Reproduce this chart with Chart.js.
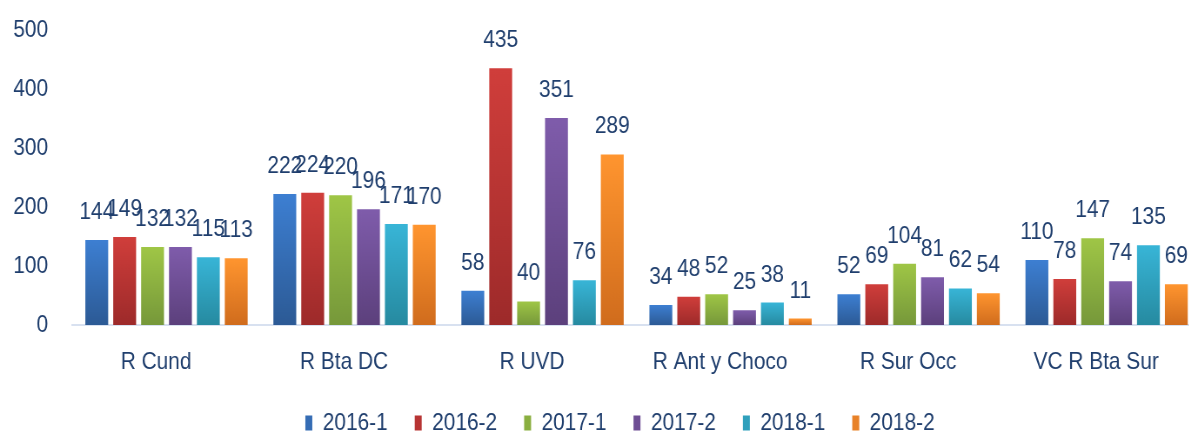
<!DOCTYPE html>
<html>
<head>
<meta charset="utf-8">
<script src="https://cdn.jsdelivr.net/npm/chart.js@4.4.1/dist/chart.umd.min.js"></script>
<style>
  html, body { margin: 0; padding: 0; background: #fff; overflow: hidden; }
  /* drawn wide, then squeezed so the text gets the narrow look of the original */
  #myChart { display: block; transform: scaleX(0.87); transform-origin: 0 0; }
</style>
</head>
<body>
<canvas id="myChart" width="1455" height="434"></canvas>
<script>
var categories = ['R Cund', 'R Bta DC', 'R UVD', 'R Ant y Choco', 'R Sur Occ', 'VC R Bta Sur'];
var seriesNames = ['2016-1', '2016-2', '2017-1', '2017-2', '2018-1', '2018-2'];
var s2016_1 = [144, 222, 58, 34, 52, 110];
var s2016_2 = [149, 224, 435, 48, 69, 78];
var s2017_1 = [132, 220, 40, 52, 104, 147];
var s2017_2 = [132, 196, 351, 25, 81, 74];
var s2018_1 = [115, 171, 76, 38, 62, 135];
var s2018_2 = [113, 170, 289, 11, 54, 69];
var yTicks = [0, 100, 200, 300, 400, 500];

// top / bottom colours of each bar gradient
var topColors = ['#3d7fd2', '#d03e3b', '#9fc646', '#7f5cab', '#38b5d7', '#ff952f'];
var botColors = ['#2c5a95', '#9d2a2a', '#76983a', '#5c407c', '#268aa0', '#d06c1d'];
var midColors = ['#356cb4', '#b73433', '#8aaf40', '#6e4e94', '#2fa0bc', '#e88127'];

var textColor = '#1f3e6d';
var fontFam = "'Liberation Sans', Arial, sans-serif";

var allSeries = [s2016_1, s2016_2, s2017_1, s2017_2, s2018_1, s2018_2];

function barGradient(i){
    return function(ctx){
        var chart = ctx.chart;
        if (!chart.chartArea || ctx.type !== 'data') return midColors[i];
        var y = chart.scales.y;
        var top = y.getPixelForValue(ctx.raw);
        var bot = y.getPixelForValue(0);
        if (bot - top < 1) return midColors[i];
        var g = chart.ctx.createLinearGradient(0, top, 0, bot);
        g.addColorStop(0, topColors[i]);
        g.addColorStop(1, botColors[i]);
        return g;
    };
}

var datasets = allSeries.map(function(d, i){
    return {
        label: seriesNames[i],
        data: d,
        backgroundColor: barGradient(i),
        borderWidth: 0,
        barPercentage: 0.82,
        categoryPercentage: 0.89
    };
});

var valueLabels = {
    id: 'valueLabels',
    afterLayout: function(chart){
        // legend sits lower and a bit right of centre in the original
        chart.legend.left += 15;
        chart.legend.right += 15;
        chart.legend.top += 11;
        chart.legend.bottom += 11;
        // let the category labels' descenders show
        chart.scales.x.bottom += 14;
    },
    afterDatasetsDraw: function(chart){
        var ctx = chart.ctx;
        ctx.save();
        ctx.fillStyle = textColor;
        ctx.font = '24px ' + fontFam;
        ctx.textAlign = 'center';
        ctx.textBaseline = 'alphabetic';
        chart.data.datasets.forEach(function(ds, i){
            chart.getDatasetMeta(i).data.forEach(function(el, j){
                ctx.fillText(String(ds.data[j]), el.x, el.y - 21);
            });
        });
        ctx.restore();
    }
};

var ctx = document.getElementById('myChart').getContext('2d');
var myChart = new Chart(ctx, {
    type: 'bar',
    data: { labels: categories, datasets: datasets },
    plugins: [valueLabels],
    options: {
        responsive: false,
        animation: false,
        layout: { padding: { left: 15.3, right: 75, top: 30, bottom: 0 } },
        plugins: {
            tooltip: { enabled: false },
            legend: {
                position: 'bottom',
                labels: {
                    color: textColor,
                    font: { family: fontFam, size: 24 },
                    boxWidth: 8,
                    boxHeight: 15,
                    padding: 31,
                    generateLabels: function(chart){
                        return seriesNames.map(function(n, i){
                            return { text: n, fillStyle: midColors[i], strokeStyle: midColors[i], lineWidth: 0, datasetIndex: i, fontColor: textColor };
                        });
                    }
                }
            }
        },
        scales: {
            x: {
                grid: { display: false, drawTicks: false },
                border: { color: '#d8e1f0', width: 2 },
                ticks: { color: textColor, font: { family: fontFam, size: 24 }, padding: 23, labelOffset: -12 },
                afterFit: function(scale){ scale.height = 44; }
            },
            y: {
                min: 0,
                max: 500,
                afterBuildTicks: function(axis){ axis.ticks = yTicks.map(function(v){ return { value: v }; }); },
                grid: { display: false, drawTicks: false },
                border: { display: false },
                ticks: { color: textColor, font: { family: fontFam, size: 24 }, padding: 28 },
                afterFit: function(scale){ scale.width = 68; scale.paddingTop = 0; scale.paddingBottom = 0; }
            }
        }
    }
});
</script>
</body>
</html>
